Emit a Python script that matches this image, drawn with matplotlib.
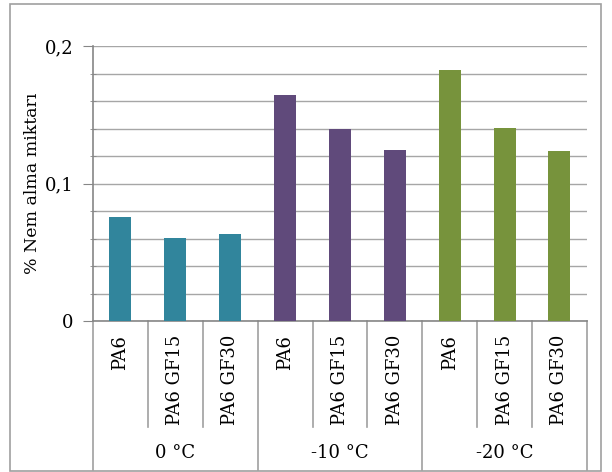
import matplotlib
matplotlib.use("Agg")
import matplotlib.pyplot as plt
from matplotlib.lines import Line2D
from matplotlib.patches import Rectangle
from matplotlib.ticker import MultipleLocator, FuncFormatter

groups = ["0 °C", "-10 °C", "-20 °C"]
materials = ["PA6", "PA6 GF15", "PA6 GF30"]
values_0 = [0.0756, 0.0604, 0.0633]
values_m10 = [0.1644, 0.1396, 0.1244]
values_m20 = [0.1825, 0.1404, 0.1236]
group_colors = ["#31859C", "#604A7B", "#77933C"]
y_label = "% Nem alma miktarı"

plt.rcParams["font.family"] = ["DejaVu Serif"]
fig = plt.figure(figsize=(6.12, 4.72), dpi=100)
ax = fig.add_axes([0.152, 0.3199, 0.807, 0.5826])

# outer chart border
fig.patches.append(Rectangle((10 / 612, 1 / 472), 591 / 612, 467 / 472,
                             transform=fig.transFigure, fill=False,
                             edgecolor="#A0A0A0", linewidth=1.2))

series = [values_0, values_m10, values_m20]
x = 0
for g, (vals, col) in enumerate(zip(series, group_colors)):
    for v in vals:
        ax.bar(x, v, width=0.4, color=col, zorder=3)
        x += 1
n = x

ax.set_xlim(-0.5, n - 0.5)
ax.set_ylim(0, 0.2)
ax.yaxis.set_major_locator(MultipleLocator(0.1))
ax.yaxis.set_minor_locator(MultipleLocator(0.02))
ax.yaxis.set_major_formatter(FuncFormatter(lambda v, p: ("%g" % round(v, 3)).replace(".", ",")))
ax.grid(axis="y", which="both", color="#A6A6A6", linewidth=1.0, zorder=0)
ax.tick_params(axis="y", which="major", length=7, color="#868686", labelsize=13, pad=7)
ax.tick_params(axis="y", which="minor", length=4, direction="inout", color="#868686")
ax.set_xticks([])
for s in ["top", "right"]:
    ax.spines[s].set_visible(False)
for s in ["left", "bottom"]:
    ax.spines[s].set_color("#868686")
    ax.spines[s].set_linewidth(1.2)

ax.set_ylabel(y_label, fontsize=12.5)
ax.yaxis.set_label_coords(-0.106, 0.5)

tr = ax.get_xaxis_transform()
# category labels and separators
idx = 0
for g, name in enumerate(groups):
    for m in materials:
        ax.text(idx, -0.05, m, rotation=90, ha="center", va="top",
                fontsize=13, transform=tr)
        idx += 1
    ax.text(g * 3 + 1, -0.48, name, ha="center", va="center",
            fontsize=13, transform=tr)

for b in range(n + 1):
    xb = b - 0.5
    bottom = -0.54 if b % 3 == 0 else -0.385
    ax.add_line(Line2D([xb, xb], [0, bottom], transform=tr, color="#A0A0A0",
                       linewidth=1.2, clip_on=False))

fig.savefig("out.png", dpi=100)
